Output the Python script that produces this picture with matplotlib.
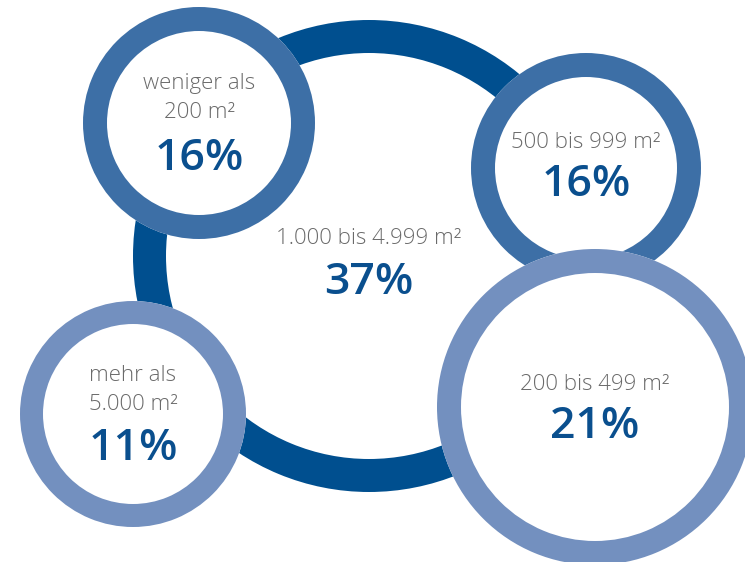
import matplotlib.pyplot as plt
from matplotlib.patches import Circle, Wedge

# data
labels = ['1.000 bis 4.999 m²', 'weniger als\n200 m²', '500 bis 999 m²',
          'mehr als\n5.000 m²', '200 bis 499 m²']
shares = [37, 16, 16, 11, 21]

# layout (pixel coords, y down)
centers = [(369, 256), (199, 123), (586, 168), (133, 414), (595, 407)]
radii = [236, 116, 115, 113, 158]
widths = [33, 24, 24, 23, 24]
ring_colors = ['#004f8f', '#3d6fa6', '#3d6fa6', '#7390bf', '#7390bf']
label_dy = [-17, -25, -26, -24, -23]
pct_dy = [27, 35, 17, 34, 19]

txt_gray = '#6a6a6a'
pct_blue = '#0a4f8e'

fig = plt.figure(figsize=(7.45, 5.62), dpi=100)
ax = fig.add_axes([0, 0, 1, 1])
ax.set_xlim(0, 745)
ax.set_ylim(562, 0)
ax.set_aspect('equal')
ax.axis('off')

for i in range(len(labels)):
    cx, cy = centers[i]
    z = 1 if i == 0 else 2 + i
    ax.add_patch(Circle((cx, cy), radii[i], facecolor='white', edgecolor='none', zorder=z))
    ax.add_patch(Wedge((cx, cy), radii[i], 0, 360, width=widths[i],
                       facecolor=ring_colors[i], edgecolor='none', zorder=z))
    ax.text(cx, cy + label_dy[i], labels[i], ha='center', va='center', fontsize=16,
            color=txt_gray, family='Open Sans', fontweight='light',
            linespacing=1.45, zorder=z + 0.5)
    ax.text(cx, cy + pct_dy[i], f'{shares[i]}%', ha='center', va='center', fontsize=32,
            color=pct_blue, family='Open Sans', fontweight='semibold', zorder=z + 0.5)

fig.savefig('out.png', dpi=100)
